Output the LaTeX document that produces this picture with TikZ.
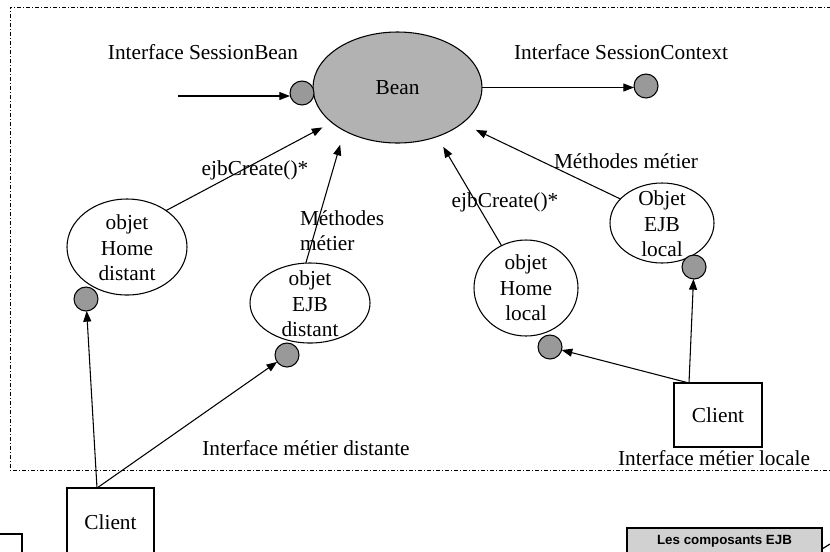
\documentclass[tikz,border=0pt]{standalone}
\usepackage{fontspec}
\setmainfont{Liberation Serif}
\newfontfamily\boxsans{Liberation Sans}
\usetikzlibrary{shapes.geometric,arrows.meta}
\definecolor{beangray}{gray}{0.70}
\definecolor{portgray}{gray}{0.60}
\definecolor{titlegray}{gray}{0.82}

\begin{document}
\begin{tikzpicture}[x=0.75pt,y=-0.75pt,
  every node/.style={inner sep=0pt, outer sep=0pt},
  txt/.style={font=\fontsize{16}{19}\selectfont, align=center},
  ln/.style={line width=0.8pt},
  arr/.style={ln, -{Triangle[length=8pt,width=6pt]}},
  port/.style={circle, draw, line width=0.8pt, fill=portgray, minimum size=18pt},
  obj/.style={ellipse, draw, line width=0.8pt, fill=white},
  frame/.style={line width=0.7pt, dash pattern=on 3pt off 1.5pt on 0.75pt off 1.5pt},
  box/.style={rectangle, draw, line width=0.9pt, fill=white}
]
\useasboundingbox (0,0) rectangle (830,551);
\clip (0,0) rectangle (830,551);

% container frame (dash-dot, open to the right)
\draw[frame] (840,7) -- (10,7) -- (10,470) -- (840,470);

% the bean and its two session interfaces
\node[obj, fill=beangray, minimum width=126.75pt, minimum height=83.25pt] (Bean) at (397.5,87.5) {};
\node[txt] (tBean) at (397.5,88) {Bean};
\node[port] (SB) at (302,93) {};
\node[port] (SC) at (646,86) {};
\coordinate (sbin) at (178,96);

% objects and their ports
\node[obj, minimum width=90pt, minimum height=72pt] (HD) at (127,247) {};
\node[txt] (tHD) at (127,248) {objet\\Home\\distant};
\node[port] (HDp) at (86,299) {};

\node[obj, minimum width=90pt, minimum height=60pt] (ED) at (310,303) {};
\node[txt] (tED) at (310,304) {objet\\EJB\\distant};
\node[port] (EDp) at (287,355) {};

\node[obj, minimum width=78pt, minimum height=72pt] (HL) at (526,288) {};
\node[txt] (tHL) at (526,288) {objet\\Home\\local};
\node[port] (HLp) at (550,347) {};

\node[obj, minimum width=78pt, minimum height=60pt] (EL) at (662,223) {};
\node[txt] (tEL) at (662,224) {Objet\\EJB\\local};
\node[port] (ELp) at (694,267) {};

% clients
\node[box, txt, minimum width=65.25pt, minimum height=51pt, anchor=north west] (C1) at (67,488) {Client};
\node[box, txt, minimum width=66pt, minimum height=48pt, anchor=north west] (C2) at (674,383) {Client};
\coordinate (c1top) at ([xshift=22.5pt]C1.north west);
\coordinate (c2top) at ([xshift=11.25pt]C2.north west);

% labels
\node[txt] (lSB) at (203,52) {Interface SessionBean};
\node[txt] (lSC) at (621,52) {Interface SessionContext};
\node[txt] (ejb1) at (255,170) {ejbCreate()*};
\node[txt, align=left, anchor=west] (meth1) at (300,231) {Méthodes\\métier};
\node[txt] (ejb2) at (505,202) {ejbCreate()*};
\node[txt] (meth2) at (626,161) {Méthodes métier};
\node[txt] (dist) at (306,448) {Interface métier distante};
\node[txt] (loc) at (714,458) {Interface métier locale};

% connectors
\draw[arr] (sbin) -- (sbin -| SB.west);
\draw[arr] (Bean.east) -- (Bean.east -| SC.west);
\draw[arr, shorten >=8pt] (HD.43) -- (Bean.208);
\draw[arr, shorten >=11pt] (ED.96) -- (Bean.219);
\draw[arr, shorten >=9pt] (HL.120) -- (Bean.309);
\draw[arr, shorten >=11.5pt] (EL.150) -- (Bean.331);
\draw[arr] (c1top) -- (HDp);
\draw[arr] (c1top) -- (EDp);
\draw[arr] (c2top) -- (HLp);
\draw[arr] (c2top) -- (ELp);

% title plate and partial box at the page foot
\node[rectangle, draw, line width=0.9pt, fill=titlegray, minimum width=146.25pt, minimum height=19.5pt, anchor=north west,
      font=\boxsans\bfseries\fontsize{10}{12}\selectfont] (title) at (627,528) {Les composants EJB};
\draw[line width=0.9pt] (title.east |- 0,549) -- (830,544);
\draw[line width=0.8pt] (-10,534) -- (22,534) -- (22,560);
\end{tikzpicture}
\end{document}
